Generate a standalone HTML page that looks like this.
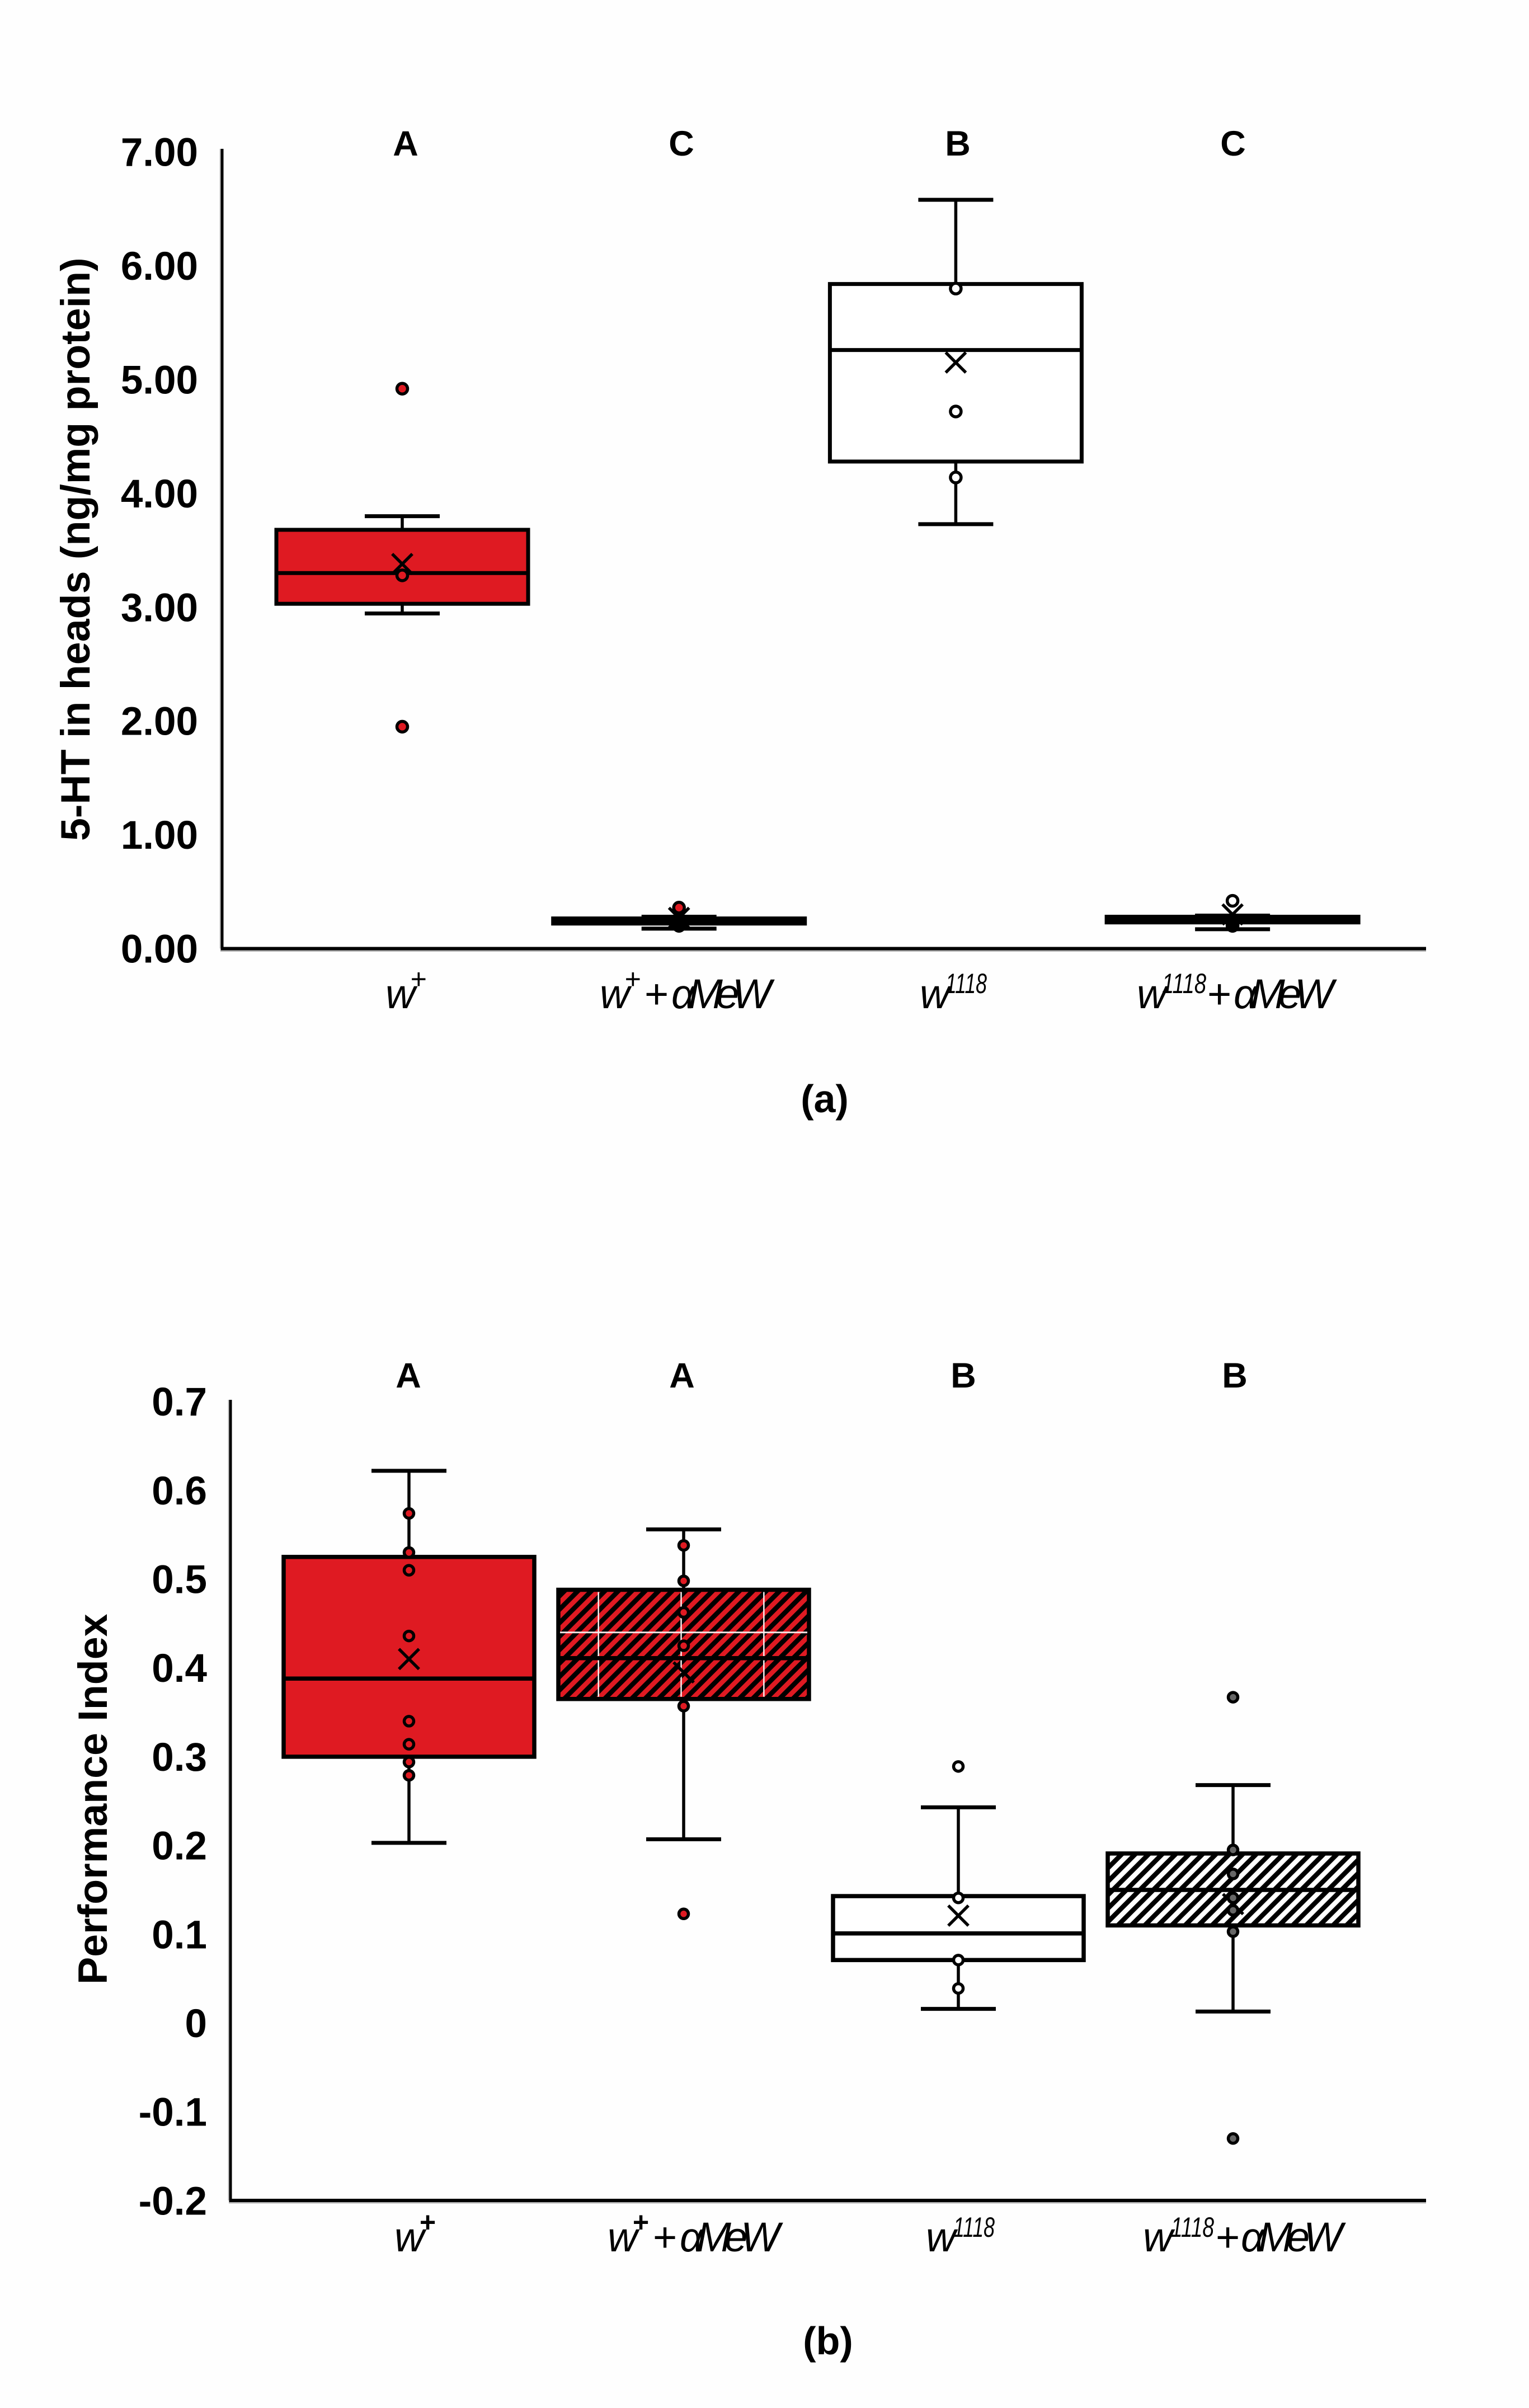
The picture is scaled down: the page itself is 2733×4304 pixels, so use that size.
<!DOCTYPE html>
<html lang="en">
<head>
<meta charset="utf-8">
<title>5-HT in heads and Performance Index box plots</title>
<style>
html,body{margin:0;padding:0;background:#fefefe;}
svg{display:block;}
text{font-family:"Liberation Sans",sans-serif;fill:#000;}
.tick{font-size:71px;font-weight:bold;text-anchor:end;}
.title{font-size:73.6px;font-weight:bold;}
.letter{font-size:63px;font-weight:bold;text-anchor:middle;}
.cat{font-size:74px;font-style:italic;}
.cat .up{font-size:50px;}
.cat .bold{font-weight:bold;}
.cat .plain{font-style:normal;}
.caption{font-size:70px;font-weight:bold;text-anchor:middle;}
</style>
</head>
<body>
<svg id="figure" xmlns="http://www.w3.org/2000/svg" width="2733" height="4304" viewBox="0 0 2733 4304">
  <defs>
    <pattern id="hatch-red" patternUnits="userSpaceOnUse" width="17" height="17" patternTransform="rotate(45)">
      <rect width="17" height="17" fill="#df1a22"></rect>
      <rect width="8.5" height="17" fill="#000"></rect>
    </pattern>
    <pattern id="hatch-white" patternUnits="userSpaceOnUse" width="17" height="17" patternTransform="rotate(45)">
      <rect width="17" height="17" fill="#fff"></rect>
      <rect width="8.5" height="17" fill="#000"></rect>
    </pattern>
  </defs>
  <rect width="2733" height="4304" fill="#fefefe"></rect>

  <g id="chart-a"></g>
  <g id="chart-b"></g>

  <text class="title" transform="translate(160,1503) rotate(-90)">5-HT in heads (ng/mg protein)</text>
  <text class="title" transform="translate(191,3547) rotate(-90)">Performance Index</text>

  <text class="cat" y="1802"><tspan x="689">w</tspan><tspan class="up" x="733" y="1767">+</tspan></text>
  <text class="cat" y="1802"><tspan x="1072">w</tspan><tspan class="up" x="1116" y="1767">+</tspan><tspan class="plain" x="1152" y="1802">+</tspan><tspan x="1200" y="1802" textLength="179" lengthAdjust="spacing">αMeW</tspan></text>
  <text class="cat" y="1802"><tspan x="1644">w</tspan><tspan class="up" x="1690" y="1775" textLength="74" lengthAdjust="spacingAndGlyphs">1118</tspan></text>
  <text class="cat" y="1802"><tspan x="2032">w</tspan><tspan class="up" x="2077" y="1775" textLength="79" lengthAdjust="spacingAndGlyphs">1118</tspan><tspan class="plain" x="2158" y="1802">+</tspan><tspan x="2205" y="1802" textLength="179" lengthAdjust="spacing">αMeW</tspan></text>
  <text class="caption" x="1474" y="1988">(a)</text>

  <text class="cat" y="4024"><tspan x="705">w</tspan><tspan class="up bold" x="749" y="3989">+</tspan></text>
  <text class="cat" y="4024"><tspan x="1086">w</tspan><tspan class="up bold" x="1130" y="3989">+</tspan><tspan class="plain" x="1167" y="4024">+</tspan><tspan x="1215" y="4024" textLength="179" lengthAdjust="spacing">αMeW</tspan></text>
  <text class="cat" y="4024"><tspan x="1655">w</tspan><tspan class="up" x="1704" y="3998" textLength="74" lengthAdjust="spacingAndGlyphs">1118</tspan></text>
  <text class="cat" y="4024"><tspan x="2043">w</tspan><tspan class="up" x="2093" y="3998" textLength="77" lengthAdjust="spacingAndGlyphs">1118</tspan><tspan class="plain" x="2173" y="4024">+</tspan><tspan x="2218" y="4024" textLength="182" lengthAdjust="spacing">αMeW</tspan></text>
  <text class="caption" x="1480" y="4208">(b)</text>
</svg>

<script>
var groupNames = ['w-plus', 'w-plus-amew', 'w1118', 'w1118-amew'];

/* Panel (a): 5-HT in heads */
var ticksA = ['0.00', '1.00', '2.00', '3.00', '4.00', '5.00', '6.00', '7.00'];
var tickValuesA = [0, 1, 2, 3, 4, 5, 6, 7];
var lettersA = ['A', 'C', 'B', 'C'];
var q1A = [3.03, 0.22, 4.28, 0.23];
var medianA = [3.30, 0.24, 5.26, 0.25];
var q3A = [3.68, 0.265, 5.84, 0.28];
var meanA = [3.38, 0.27, 5.15, 0.30];
var whiskerLowA = [2.945, 0.175, 3.73, 0.17];
var whiskerHighA = [3.80, 0.28, 6.58, 0.29];
var pointsA = [
  [4.92, 3.28, 1.95],
  [0.36, 0.25, 0.22, 0.20],
  [5.80, 4.72, 4.14],
  [0.42, 0.25, 0.20]
];

/* Panel (b): Performance Index */
var ticksB = ['-0.2', '-0.1', '0', '0.1', '0.2', '0.3', '0.4', '0.5', '0.6', '0.7'];
var tickValuesB = [-0.2, -0.1, 0, 0.1, 0.2, 0.3, 0.4, 0.5, 0.6, 0.7];
var lettersB = ['A', 'A', 'B', 'B'];
var q1B = [0.300, 0.365, 0.071, 0.110];
var medianB = [0.388, 0.411, 0.101, 0.150];
var q3B = [0.525, 0.488, 0.143, 0.191];
var meanB = [0.410, 0.395, 0.121, 0.134];
var whiskerLowB = [0.203, 0.207, 0.016, 0.013];
var whiskerHighB = [0.622, 0.556, 0.243, 0.268];
var pointsB = [
  [0.574, 0.530, 0.510, 0.436, 0.340, 0.314, 0.294, 0.279],
  [0.538, 0.498, 0.4625, 0.425, 0.357, 0.123],
  [0.289, 0.141, 0.071, 0.039],
  [0.367, 0.195, 0.168, 0.141, 0.127, 0.103, -0.130]
];
var gridValuesB = [0.44];

var NS = 'http://www.w3.org/2000/svg';

function make(parent, tag, attrs) {
  var el = document.createElementNS(NS, tag);
  for (var k in attrs) { el.setAttribute(k, attrs[k]); }
  parent.appendChild(el);
  return el;
}

function drawChart(cfg) {
  var root = document.getElementById(cfg.id);
  function yOf(v) { return cfg.y0 - v * cfg.yScale; }
  function xOf(i) { return cfg.x0 + i * cfg.xStep; }

  /* axes, with the soft grey edge seen on the source image */
  var shadowX = make(root, 'line', {x1: cfg.axisX - 3, x2: cfg.axisRight, y1: cfg.axisY + 4, y2: cfg.axisY + 4, stroke: '#b5b5b5', 'stroke-width': 3});
  
  
  var shadowY = make(root, 'line', {x1: cfg.axisX - 3.5, x2: cfg.axisX - 3.5, y1: cfg.axisTop, y2: cfg.axisY, stroke: '#c5c5c5', 'stroke-width': 2});
  
  
  var axisY = make(root, 'line', {x1: cfg.axisX, x2: cfg.axisX, y1: cfg.axisTop, y2: cfg.axisY + 3, stroke: '#000', 'stroke-width': 5});
  
  
  var axisX = make(root, 'line', {x1: cfg.axisX - 2.5, x2: cfg.axisRight, y1: cfg.axisY, y2: cfg.axisY, stroke: '#000', 'stroke-width': 6});
  
  

  cfg.tickValues.forEach(function (v, t) {
    var label = make(root, 'text', {'class': 'tick', x: cfg.tickRight, y: yOf(v) + 25});
    label.textContent = cfg.ticks[t];
    
    
  });

  cfg.letters.forEach(function (s, i) {
    var letter = make(root, 'text', {'class': 'letter', x: cfg.letterX[i], y: cfg.letterY});
    letter.textContent = s;
    
    
  });

  groupNames.forEach(function (name, i) {
    var cx = xOf(i);
    var g = make(root, 'g', {});
    
    

    var top = yOf(cfg.q3[i]);
    var bottom = yOf(cfg.q1[i]);

    var upper = make(g, 'line', {x1: cx, x2: cx, y1: yOf(cfg.whiskerHigh[i]), y2: top, stroke: '#000', 'stroke-width': 5.5});
    
    
    var lower = make(g, 'line', {x1: cx, x2: cx, y1: bottom, y2: yOf(cfg.whiskerLow[i]), stroke: '#000', 'stroke-width': 5.5});
    
    
    var capTop = make(g, 'line', {x1: cx - cfg.capHalf, x2: cx + cfg.capHalf, y1: yOf(cfg.whiskerHigh[i]), y2: yOf(cfg.whiskerHigh[i]), stroke: '#000', 'stroke-width': 7});
    
    
    var capLow = make(g, 'line', {x1: cx - cfg.capHalf, x2: cx + cfg.capHalf, y1: yOf(cfg.whiskerLow[i]), y2: yOf(cfg.whiskerLow[i]), stroke: '#000', 'stroke-width': 7});
    
    

    var rect = make(g, 'rect', {x: cx - cfg.boxHalf, y: top, width: cfg.boxHalf * 2, height: bottom - top, fill: cfg.fills[i], stroke: '#000', 'stroke-width': cfg.boxStroke});
    
    

    if (cfg.gridBox === i) {
      cfg.gridValues.forEach(function (v) {
        var h = make(g, 'line', {x1: cx - cfg.boxHalf + 3, x2: cx + cfg.boxHalf - 3, y1: yOf(v), y2: yOf(v), stroke: '#f4e4e4', 'stroke-width': 3});
        
        
      });
      [-0.68, -0.02, 0.64].forEach(function (f) {
        var vline = make(g, 'line', {x1: cx + f * cfg.boxHalf, x2: cx + f * cfg.boxHalf, y1: top + 4, y2: bottom - 4, stroke: '#f8f0f0', 'stroke-width': 2.5});
        
        
      });
    }

    var med = make(g, 'line', {x1: cx - cfg.boxHalf, x2: cx + cfg.boxHalf, y1: yOf(cfg.median[i]), y2: yOf(cfg.median[i]), stroke: '#000', 'stroke-width': cfg.boxStroke});
    
    

    var my = yOf(cfg.mean[i]);
    var cross = make(g, 'path', {d: 'M' + (cx - 18) + ' ' + (my - 18) + 'L' + (cx + 18) + ' ' + (my + 18) + 'M' + (cx + 18) + ' ' + (my - 18) + 'L' + (cx - 18) + ' ' + (my + 18), stroke: '#000', 'stroke-width': 5.5, fill: 'none'});
    
    

    var narrow = (bottom - top) < 30;
    cfg.points[i].forEach(function (v) {
      /* points merged into a very thin box read as solid black in the source */
      var hidden = narrow && Math.abs(yOf(v) - (top + bottom) / 2) < 14;
      var dot = make(g, 'circle', {cx: cx, cy: yOf(v), r: cfg.pointR, fill: hidden ? '#000' : cfg.pointFills[i], stroke: '#000', 'stroke-width': 5.5});
      
      
    });
  });
}

drawChart({
  id: 'chart-a', y0: 1695.5, yScale: 203.4, x0: 719, xStep: 494.7,
  axisX: 397, axisTop: 266, axisY: 1695.5, axisRight: 2549, tickRight: 354,
  boxHalf: 225, capHalf: 67, pointR: 9.5, boxStroke: 7,
  ticks: ticksA, tickValues: tickValuesA, letters: lettersA,
  letterX: [725, 1218, 1712, 2204], letterY: 278,
  q1: q1A, median: medianA, q3: q3A, mean: meanA, whiskerLow: whiskerLowA, whiskerHigh: whiskerHighA, points: pointsA,
  fills: ['#df1a22', '#000', '#fff', '#000'],
  pointFills: ['#df1a22', '#df1a22', '#fff', '#fff']
});

drawChart({
  id: 'chart-b', y0: 3616, yScale: 1587, x0: 731, xStep: 491,
  axisX: 412, axisTop: 2502, axisY: 3933, axisRight: 2549, tickRight: 370,
  boxHalf: 224, capHalf: 67, pointR: 8.5, boxStroke: 7.5,
  ticks: ticksB, tickValues: tickValuesB, letters: lettersB,
  letterX: [730, 1219, 1722, 2207], letterY: 2480,
  q1: q1B, median: medianB, q3: q3B, mean: meanB, whiskerLow: whiskerLowB, whiskerHigh: whiskerHighB, points: pointsB,
  gridBox: 1, gridValues: gridValuesB,
  fills: ['#df1a22', 'url(#hatch-red)', '#fff', 'url(#hatch-white)'],
  pointFills: ['#df1a22', '#df1a22', '#fff', '#666']
});
</script>
</body>
</html>
